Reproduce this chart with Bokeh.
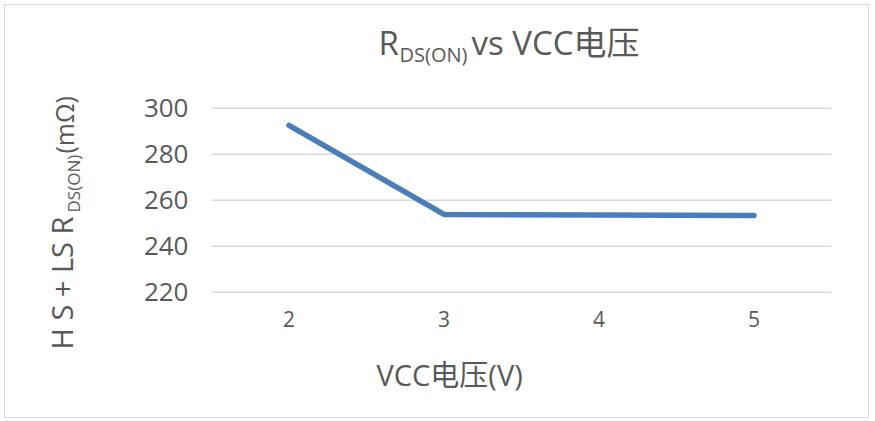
import math
from bokeh.plotting import figure
from bokeh.models import Range1d, FixedTicker, Label
from bokeh.embed import file_html
from bokeh.resources import INLINE

# ---- data ----
vcc = [2, 3, 4, 5]
rds_on = [292.5, 253.8, 253.6, 253.3]
y_ticks = [220, 240, 260, 280, 300]

title_main = "R"
title_sub = "DS(ON)"
title_rest = "vs VCC电压"
ylab_main = "H S + LS R"
ylab_sub = "DS(ON)"
ylab_rest = "(mΩ)"
xlab = "VCC电压(V)"

# ---- layout (canvas pixels) ----
FONT = "'Open Sans', 'Noto Sans CJK SC'"
GREY = "#595959"
W, H = 865, 414
OFF = 5                      # page margin + border
PL, PR = 206.0, 826.0        # plot area left/right
PT, PB = 102.7, 286.7        # pixel rows of 300 and 220
YMIN, YMAX = 220, 300
nslots = len(vcc)
xpx = (PR - PL) / nslots
x_lo = vcc[0] - 0.5
x_hi = vcc[-1] + 0.5
ypx = (PB - PT) / (YMAX - YMIN)

x_range = Range1d(x_lo - PL / xpx, x_hi + (W - PR) / xpx)
y_range = Range1d(YMIN - (H - PB) / ypx, YMAX + PT / ypx)

p = figure(x_range=x_range, y_range=y_range, width=W, height=H,
           output_backend="svg", toolbar_location=None,
           min_border=0, min_border_left=0, min_border_right=0,
           min_border_top=0, min_border_bottom=0)
p.styles = {"border": "1px solid #D9D9D9", "margin": "4px 0 0 4px"}
p.outline_line_color = None
p.background_fill_color = "white"
p.xgrid.grid_line_color = None
p.ygrid.grid_line_color = None
p.yaxis.ticker = FixedTicker(ticks=y_ticks)
p.xaxis.ticker = FixedTicker(ticks=vcc)
p.yaxis.fixed_location = x_lo
p.xaxis.fixed_location = YMIN

# horizontal gridlines limited to the plot area
p.segment(x0=[x_lo] * len(y_ticks), x1=[x_hi] * len(y_ticks), y0=y_ticks, y1=y_ticks,
          line_color="#D9D9D9", line_width=1.5)

for ax in (p.xaxis[0], p.yaxis[0]):
    ax.axis_line_color = None
    ax.major_tick_line_color = None
    ax.minor_tick_line_color = None
    ax.major_tick_out = 0
    ax.major_tick_in = 0
    ax.major_label_text_color = GREY
    ax.major_label_text_font = FONT

p.yaxis.major_label_text_font_size = "26px"
p.yaxis.major_label_standoff = 23
p.xaxis.major_label_text_font_size = "21px"
p.xaxis.major_label_standoff = 19

p.line(x=vcc, y=rds_on, line_color="#4A7EBB", line_width=5.5,
       line_join="round", line_cap="round")

# page coords -> screen units (frame == canvas)
def sx(x):
    return x - OFF
def sy(y):
    return OFF + H - y

def lab(text, x, y, size, angle=0.0):
    p.add_layout(Label(x=sx(x), y=sy(y), x_units="screen", y_units="screen",
                       text=text, text_font=FONT, text_font_size=size,
                       text_color=GREY, text_align="left", text_baseline="alphabetic",
                       angle=angle))

# title
lab(title_main, 378, 42, "33px")
lab(title_sub, 399, 54, "20px")
lab(title_rest, 471, 42, "33px")

# x axis label
lab(xlab, 376, 374, "29px")

# y label (rotated)
a = math.pi / 2
lab(ylab_main, 61, 349, "29px", a)
lab(ylab_sub, 73, 212, "17px", a)
lab(ylab_rest, 63, 153, "25px", a)

open("out.html", "w").write(file_html(p, INLINE))
